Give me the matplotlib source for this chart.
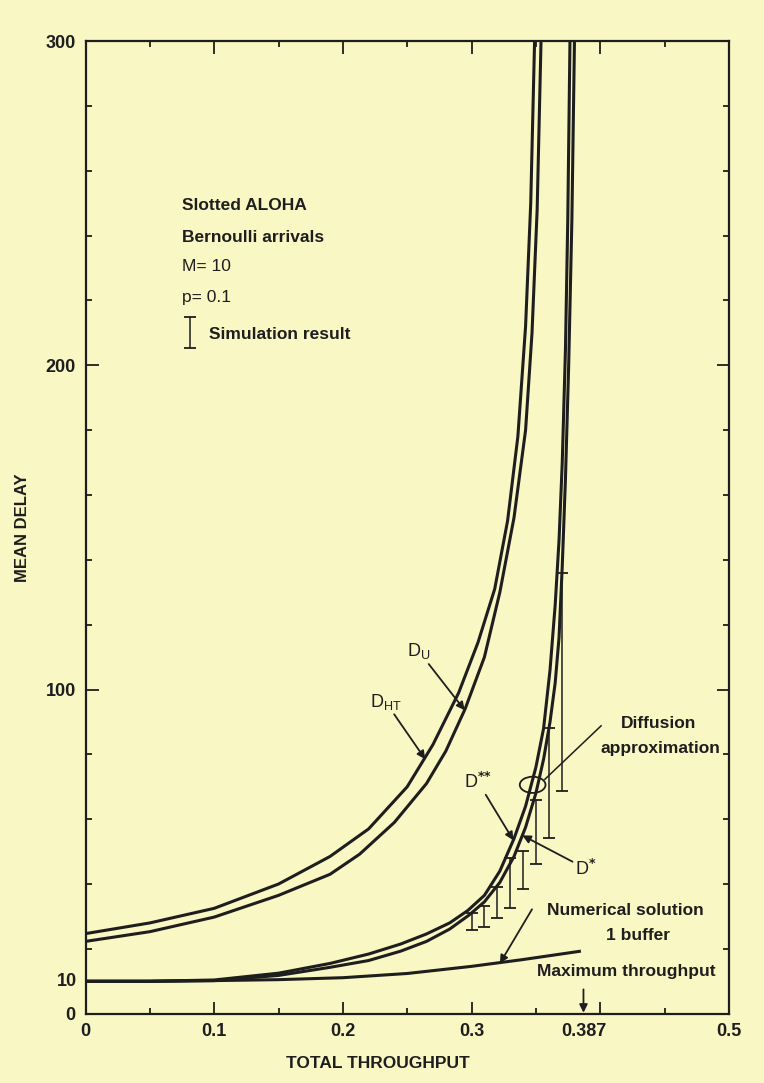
import numpy as np
import matplotlib.pyplot as plt
from matplotlib.patches import Ellipse

plt.rcParams['font.family'] = ['Liberation Sans', 'DejaVu Sans']
plt.rcParams['font.weight'] = 'bold'

# curves (throughput, mean delay)
d_ht_x = [0.0, 0.05, 0.10, 0.15, 0.19, 0.22, 0.25, 0.27, 0.29, 0.305, 0.318, 0.328, 0.336, 0.342, 0.346, 0.349]
d_ht_y = [24.7, 28.0, 32.5, 40.0, 48.5, 57.0, 70.0, 83.0, 99.0, 114.5, 131.0, 152.0, 178.0, 212.0, 250.0, 300.0]

d_u_x = [0.0, 0.05, 0.10, 0.15, 0.19, 0.213, 0.24, 0.265, 0.28, 0.295, 0.31, 0.322, 0.333, 0.342, 0.347, 0.351, 0.354]
d_u_y = [22.3, 25.3, 29.8, 36.5, 43.0, 49.2, 59.0, 71.0, 81.0, 94.0, 110.0, 130.0, 153.0, 180.0, 210.0, 248.0, 300.0]

d_ss_x = [0.0, 0.05, 0.10, 0.15, 0.19, 0.22, 0.245, 0.265, 0.283, 0.297, 0.31, 0.322, 0.333,
          0.342, 0.35, 0.356, 0.361, 0.365, 0.368, 0.3705, 0.373, 0.3748, 0.3765]
d_ss_y = [10.0, 10.0, 10.4, 12.5, 15.5, 18.4, 21.5, 24.6, 28.0, 31.8, 36.5, 44.0, 54.0,
          64.0, 76.0, 88.0, 106.0, 126.0, 146.0, 170.0, 205.0, 245.0, 300.0]

d_s_x = [0.0, 0.05, 0.10, 0.15, 0.19, 0.22, 0.245, 0.265, 0.283, 0.298, 0.31, 0.322, 0.333,
         0.342, 0.35, 0.356, 0.361, 0.365, 0.368, 0.3705, 0.373, 0.3755, 0.378, 0.38]
d_s_y = [10.0, 10.0, 10.2, 11.8, 14.3, 16.4, 19.3, 22.3, 26.1, 30.4, 34.5, 40.5, 48.5,
         57.5, 68.0, 78.5, 90.0, 102.0, 116.0, 138.0, 165.0, 200.0, 245.0, 300.0]

num_x = [0.0, 0.05, 0.10, 0.15, 0.20, 0.25, 0.30, 0.34, 0.385]
num_y = [10.0, 10.0, 10.2, 10.5, 11.1, 12.4, 14.6, 16.7, 19.3]

# simulation results (low / high end of each bar)
sim_x = [0.30, 0.31, 0.32, 0.33, 0.34, 0.35, 0.36, 0.37]
sim_lo = [25.8, 26.7, 29.4, 32.6, 38.6, 46.2, 54.1, 68.6]
sim_hi = [31.0, 33.2, 39.1, 48.1, 50.2, 65.9, 88.0, 135.8]

x_ticks = [0.0, 0.1, 0.2, 0.3, 0.4, 0.5]
x_tick_labels = ['0', '0.1', '0.2', '0.3', '', '0.5']
y_ticks = [0, 100, 200, 300]
y_minor = [20, 40, 60, 80, 120, 140, 160, 180, 220, 240, 260, 280]
max_throughput = 0.387

bg = '#f9f7c3'
ink = '#1e1e1e'

fig = plt.figure(figsize=(7.64, 10.83), dpi=100, facecolor=bg)
ax = fig.add_axes([0.112, 0.064, 0.842, 0.898], facecolor=bg)

for xs, ys in [(d_ht_x, d_ht_y), (d_u_x, d_u_y), (d_ss_x, d_ss_y), (d_s_x, d_s_y), (num_x, num_y)]:
    ax.plot(xs, ys, color=ink, lw=2.2, solid_capstyle='butt', solid_joinstyle='round')

lo = np.array(sim_lo)
hi = np.array(sim_hi)
ax.errorbar(sim_x, lo, yerr=[np.zeros(len(lo)), hi - lo], fmt='none', ecolor=ink,
            elinewidth=1.1, capsize=4.5, capthick=1.3)

ax.set_xlim(0, 0.5)
ax.set_ylim(0, 300)
ax.set_xticks(x_ticks, x_tick_labels)
ax.set_xticks(np.arange(0.05, 0.5, 0.1), minor=True)
ax.set_yticks(y_ticks, [str(t) for t in y_ticks])
ax.set_yticks(y_minor, minor=True)
ax.tick_params(which='both', direction='in', top=True, right=True, width=1.3, colors=ink,
               labelsize=13, pad=7)
ax.tick_params(which='major', length=9)
ax.tick_params(which='minor', length=4.5)
for s in ax.spines.values():
    s.set_linewidth(1.6)
    s.set_color(ink)

ax.text(-0.014, 10, '10', transform=ax.get_yaxis_transform(), ha='right', va='center',
        fontsize=13, color=ink)
ax.annotate(str(max_throughput), xy=(max_throughput, 0), xycoords=('data', 'axes fraction'),
            xytext=(0, -7), textcoords='offset points', ha='center', va='top',
            fontsize=13, color=ink)

ax.set_xlabel('TOTAL THROUGHPUT', fontsize=12.5, color=ink, fontweight='bold')
ax.xaxis.set_label_coords(0.455, -0.044)
ax.set_ylabel('MEAN DELAY', fontsize=12, color=ink, fontweight='bold')
ax.yaxis.set_label_coords(-0.087, 0.5)

# legend block
ax.text(0.075, 249.4, 'Slotted ALOHA', fontsize=12.5, va='center', color=ink)
ax.text(0.075, 239.5, 'Bernoulli arrivals', fontsize=12.5, va='center', color=ink)
ax.text(0.075, 230.5, 'M= 10', fontsize=12.5, va='center', color=ink, fontweight='normal')
ax.text(0.075, 220.8, 'p= 0.1', fontsize=12.5, va='center', color=ink, fontweight='normal')
ax.errorbar([0.081], [205.5], yerr=[[0], [9.5]], fmt='none', ecolor=ink,
            elinewidth=1.1, capsize=4.5, capthick=1.3)
ax.text(0.096, 209.5, 'Simulation result', fontsize=12.5, va='center', color=ink)

arrow = dict(arrowstyle='-|>', color=ink, lw=1.3, mutation_scale=12, shrinkA=0, shrinkB=0)

ax.annotate('D$_\\mathregular{U}$', xy=(0.2947, 93.6), xytext=(0.259, 111.8), ha='center',
            va='center', fontsize=13, color=ink, fontweight='normal', arrowprops=arrow)
ax.annotate('D$_\\mathregular{HT}$', xy=(0.264, 78.5), xytext=(0.233, 96.3), ha='center',
            va='center', fontsize=13, color=ink, fontweight='normal', arrowprops=arrow)
ax.annotate('D$^{{*}{*}}$', xy=(0.3325, 53.5), xytext=(0.305, 71.5), ha='center',
            va='center', fontsize=13, color=ink, fontweight='normal', arrowprops=arrow)
ax.annotate('D$^{*}$', xy=(0.3395, 55.0), xytext=(0.389, 44.7), ha='center',
            va='center', fontsize=13, color=ink, fontweight='normal', arrowprops=arrow)

ax.add_patch(Ellipse((0.3475, 70.6), 0.02, 5.0, fill=False, ec=ink, lw=1.3))
ax.plot([0.357, 0.4007], [72.3, 88.8], color=ink, lw=1.1)
ax.text(0.445, 89.4, 'Diffusion', fontsize=12.5, ha='center', va='center', color=ink)
ax.text(0.4467, 81.7, 'approximation', fontsize=12.5, ha='center', va='center', color=ink)

ax.annotate('', xy=(0.322, 15.5), xytext=(0.347, 32.2), arrowprops=arrow)
ax.text(0.4195, 31.7, 'Numerical solution', fontsize=12.5, ha='center', va='center', color=ink)
ax.text(0.429, 24.2, '1 buffer', fontsize=12.5, ha='center', va='center', color=ink)

ax.text(0.42, 13.0, 'Maximum throughput', fontsize=12.5, ha='center', va='center', color=ink)
ax.annotate('', xy=(max_throughput, 0.3), xytext=(max_throughput, 7.5), arrowprops=arrow)

fig.savefig('out.png', dpi=100, facecolor=bg)
